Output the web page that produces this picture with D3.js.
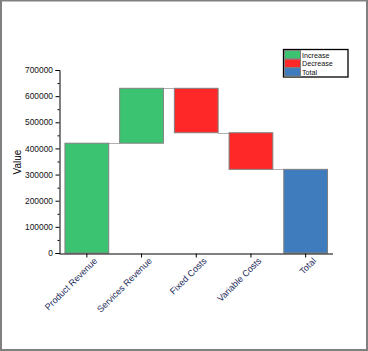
<!DOCTYPE html>
<html>
<head>
<meta charset="utf-8">
<script src="https://cdn.jsdelivr.net/npm/d3@7"></script>
<style>
  body { margin: 0; background: #fff; }
  svg { display: block; font-family: Arial, "Liberation Sans", sans-serif; }
</style>
</head>
<body>
<div id="chart"></div>
<script>
const categories = ["Product Revenue", "Services Revenue", "Fixed Costs", "Variable Costs", "Total"];
const values = [420000, 210000, -170000, -140000, 320000];
const kinds = ["Increase", "Increase", "Decrease", "Decrease", "Total"];
const yTicks = [0, 100000, 200000, 300000, 400000, 500000, 600000, 700000];
const legendLabels = ["Increase", "Decrease", "Total"];

const W = 368, H = 351;
const colors = { Increase: "#3cc372", Decrease: "#ff2828", Total: "#3f7cbe" };

// running totals for the waterfall
let run = 0;
const bars = categories.map((c, i) => {
    let start, end;
    if (kinds[i] === "Total") { start = 0; end = values[i]; }
    else { start = run; end = run + values[i]; }
    run = end;
    return { cat: c, kind: kinds[i], start, end };
});

const svg = d3.select("#chart").append("svg")
    .attr("width", W).attr("height", H);

svg.append("rect")
    .attr("x", 1).attr("y", 0.5).attr("width", W - 2).attr("height", H - 1.5)
    .attr("fill", "#fff").attr("stroke", "#808080").attr("stroke-width", 2);

const x = d3.scaleBand().domain(categories).range([59.5, 333])
    .paddingInner(0.2).paddingOuter(0.1);
const y = d3.scaleLinear().domain([0, 700000]).range([253, 70]);

// connectors
svg.append("g").selectAll("line")
    .data(bars.slice(0, -1))
    .join("line")
    .attr("x1", (d, i) => x(categories[i]) + x.bandwidth())
    .attr("x2", (d, i) => x(categories[i + 1]))
    .attr("y1", d => Math.round(y(d.end)) + 0.5)
    .attr("y2", d => Math.round(y(d.end)) + 0.5)
    .attr("stroke", "#b0b0b0").attr("stroke-width", 1);

// bars
svg.append("g").selectAll("rect")
    .data(bars)
    .join("rect")
    .attr("x", d => x(d.cat))
    .attr("y", d => y(Math.max(d.start, d.end)))
    .attr("width", x.bandwidth())
    .attr("height", d => Math.abs(y(d.start) - y(d.end)))
    .attr("fill", d => colors[d.kind])
    .attr("stroke", "#808080").attr("stroke-width", 1);

// y axis with minor ticks
const yAxis = svg.append("g").attr("transform", "translate(59.5,0)")
    .call(d3.axisLeft(y).tickValues(yTicks).tickSize(4).tickPadding(2.5).tickFormat(d3.format("d")));
svg.append("g").attr("transform", "translate(59.5,0)")
    .call(d3.axisLeft(y).tickValues(d3.range(50000, 700000, 100000)).tickSize(2).tickFormat(""))
    .select(".domain").remove();
yAxis.selectAll("text").attr("font-size", 8.4).attr("fill", "#111");

// x axis
const xAxis = svg.append("g").attr("transform", "translate(0,253.5)")
    .call(d3.axisBottom(x).tickSize(4).tickSizeOuter(0));
xAxis.select(".domain").attr("d", "M59.5,0.5H333");
xAxis.selectAll("text")
    .attr("font-size", 9)
    .attr("fill", "#1c2a5a")
    .attr("text-anchor", "end")
    .attr("dy", 0)
    .attr("transform", "translate(6,3) rotate(-45)");

svg.selectAll(".domain, .tick line").attr("stroke", "#000");

svg.append("text")
    .attr("transform", "translate(21,162) rotate(-90)")
    .attr("text-anchor", "middle")
    .attr("font-size", 10)
    .text("Value");

// legend
const lg = svg.append("g");
lg.append("rect")
    .attr("x", 283.5).attr("y", 49.5).attr("width", 64.5).attr("height", 27.5)
    .attr("fill", "#fff").attr("stroke", "#000").attr("stroke-width", 1.3);
legendLabels.forEach((l, i) => {
    lg.append("rect")
        .attr("x", 284.5).attr("y", 50.5 + i * 8.6).attr("width", 16).attr("height", 8.4)
        .attr("fill", colors[l]).attr("stroke", "#808080").attr("stroke-width", 1);
    lg.append("text")
        .attr("x", 302).attr("y", 57.5 + i * 8.6)
        .attr("font-size", 7.2).attr("fill", "#111")
        .text(l);
});
</script>
</body>
</html>
